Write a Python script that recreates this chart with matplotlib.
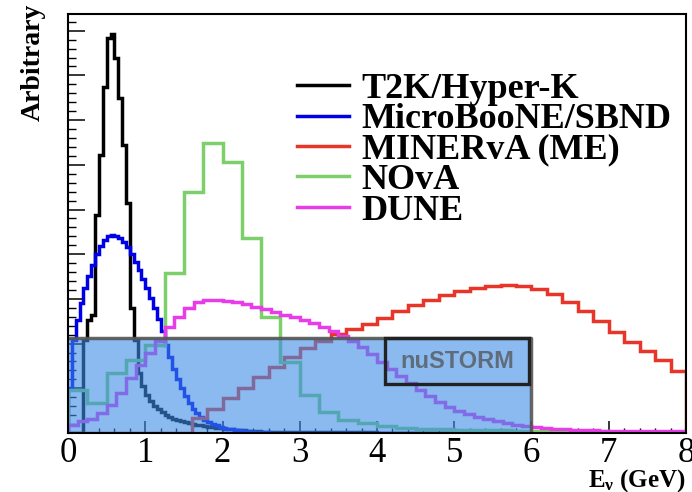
import numpy as np
import matplotlib
matplotlib.use("Agg")
import matplotlib.pyplot as plt
from matplotlib.patches import Rectangle
from matplotlib.ticker import MultipleLocator
from matplotlib.lines import Line2D

plt.rcParams['font.family'] = ['Liberation Serif', 'DejaVu Serif']
plt.rcParams['mathtext.fontset'] = 'custom'
plt.rcParams['mathtext.rm'] = 'Liberation Serif'
plt.rcParams['mathtext.bf'] = 'Liberation Serif:bold'
plt.rcParams['mathtext.it'] = 'Liberation Serif:italic'

# flux shapes, arbitrary units
labels = ["T2K/Hyper-K", "MicroBooNE/SBND", "MINERvA (ME)", "NOvA", "DUNE"]
colours = ['black', '#0000e6', '#e8352a', '#7ccf6a', '#e83ce8']

t2k_edges = list(np.round(np.arange(0, 2.5001, 0.05), 3)) + [3.0, 4.0, 8.0]
t2k_vals = [0, 0, 0, 0, 93, 113, 118, 218, 278, 346, 395, 399, 375, 335, 288, 230,
            125, 93, 60, 47, 38, 32, 27, 24, 21, 18, 16, 14.5, 13, 12, 11, 10, 9, 8.3,
            7.6, 7, 6.4, 5.8, 5.3, 4.8, 4.4, 4, 3.6, 3.3, 3, 2.7, 2.4, 2.2, 2, 1.8,
            1.4, 0.8, 0.3]

uboone_edges = list(np.round(np.arange(0, 3.0001, 0.05), 3)) + [8.0]
uboone_vals = [45, 93, 113, 130, 145, 157, 168, 179, 187, 193, 197, 198, 197, 195, 191,
               186, 179, 171, 163, 154, 145, 135, 125, 114, 102, 88, 76, 64, 54, 45, 37,
               30, 24, 20, 16, 13, 11, 9, 8, 6.5, 5.5, 4.5, 4, 3.3, 2.8, 2.3, 1.9, 1.5,
               1.2, 1.0, 0.8, 0.6, 0.5, 0.4, 0.3, 0.2, 0.2, 0.1, 0.1, 0.1, 0]

minerva_edges = np.round(np.arange(0, 8.0001, 0.2), 3)
minerva_vals = [0, 0, 0, 0, 0, 0, 0, 0,
                15, 24, 35, 45, 56, 66, 76, 85, 92, 99, 104, 109, 115, 122, 128, 133,
                138, 142, 145, 147, 148, 147, 144, 139, 131, 122, 112, 101, 91, 82, 73, 62]

nova_edges = np.round(np.arange(0, 8.0001, 0.25), 3)
nova_vals = [43, 30, 60, 73, 88, 160, 241, 290, 271, 195, 116, 71, 38, 21, 13, 10,
             7, 5.5, 4.5, 4, 3.5, 3, 2.7, 2.4, 2.2, 2, 1.8, 1.6, 1.5, 1.4, 1.3, 1.2]

dune_edges = np.round(np.arange(0, 8.0001, 0.125), 4)
dune_vals = [8, 12, 14, 20, 28, 40, 55, 68, 80, 92, 106, 116, 125, 131, 133, 133,
             132, 131, 129, 126, 124, 121, 118, 116, 113, 110, 106, 102, 97, 92, 86, 79,
             71, 64, 57, 50, 43, 37, 31, 26, 22, 19, 16, 14, 12, 10, 8, 7,
             6, 5, 4.5, 4, 3.5, 3, 3, 2.5, 2.5, 2, 2, 2, 2, 2, 2, 2]

# nuSTORM band
nustorm_emin, nustorm_emax, nustorm_level = 0.0, 6.0, 95
nustorm_label_box = (4.1, 5.97, 49, 95)

fig = plt.figure(figsize=(6.92, 4.92), dpi=100)
ax = fig.add_axes([0.0983, 0.1199, 0.8930, 0.8516])

hists = [(t2k_vals, t2k_edges), (uboone_vals, uboone_edges), (minerva_vals, minerva_edges),
         (nova_vals, nova_edges), (dune_vals, dune_edges)]
for (v, e), c in zip(hists, colours):
    ax.stairs(v, e, color=c, lw=2.5, zorder=2)

# nuSTORM shaded region
ax.add_patch(Rectangle((nustorm_emin, 0), nustorm_emax - nustorm_emin, nustorm_level,
                       facecolor=(60/255, 140/255, 230/255), alpha=0.6, edgecolor='none', zorder=3))
ax.plot([nustorm_emin, nustorm_emax, nustorm_emax], [nustorm_level, nustorm_level, 0],
        color='#555555', lw=2.5, alpha=0.9, zorder=3.5)
x0, x1, y0, y1 = nustorm_label_box
ax.add_patch(Rectangle((x0, y0), x1 - x0, y1 - y0, facecolor='none',
                       edgecolor='#222222', lw=2.4, zorder=3.6))
ax.text((x0 + x1) / 2, (y0 + y1) / 2, "nuSTORM", ha='center', va='center',
        family='Liberation Sans', weight='bold', fontsize=17, color='#5f6d7b', zorder=3.7)

ax.set_xlim(0, 8)
ax.set_ylim(0, 419)
ax.xaxis.set_major_locator(MultipleLocator(1))
ax.xaxis.set_minor_locator(MultipleLocator(0.2))
ax.yaxis.set_major_locator(MultipleLocator(44.7))
ax.yaxis.set_minor_locator(MultipleLocator(8.94))
ax.tick_params(axis='x', which='major', direction='in', length=8.6, width=1.1,
               labelsize=25, pad=3, top=False)
ax.tick_params(axis='x', which='minor', direction='in', length=3.6, width=1.0, top=False)
ax.tick_params(axis='y', which='major', direction='in', length=12, width=1.1,
               labelleft=False, right=False)
ax.tick_params(axis='y', which='minor', direction='in', length=5.8, width=1.0, right=False)
for s in ax.spines.values():
    s.set_linewidth(1.5)
    s.set_zorder(5)

fig.text(0.048, 0.992, "Arbitrary", rotation=90, ha='center', va='top',
         fontsize=20, weight='bold')
ax.set_xlabel(r"$\mathbf{E_{\nu}}$ (GeV)", loc='right', fontsize=18, weight='bold', labelpad=-2.5)

handles = [Line2D([], [], color=c, lw=2.5) for c in colours]
ax.legend(handles, labels, loc='upper left', bbox_to_anchor=(0.37, 0.86), frameon=False,
          prop={'family': 'Liberation Serif', 'weight': 'bold', 'size': 26},
          handlelength=1.45, handletextpad=0.35, labelspacing=-0.08, borderpad=0,
          borderaxespad=0)

fig.savefig("out.png", dpi=100)
